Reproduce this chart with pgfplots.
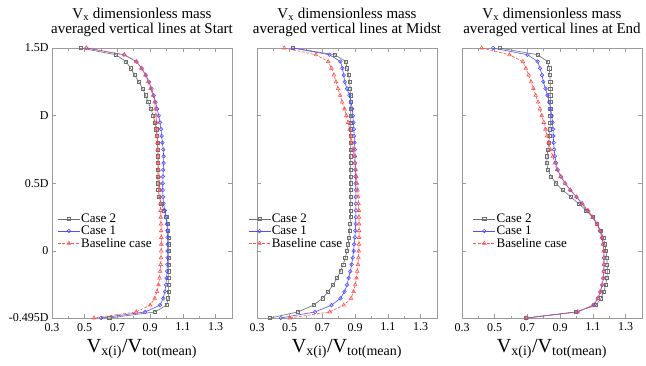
\documentclass[border=0pt]{standalone}
\usepackage{fontspec}
\setmainfont{Liberation Serif}
\usepackage{pgfplots}
\usepackage{pgfplotstable}
\pgfplotsset{compat=1.18}
\definecolor{cgray}{RGB}{110,110,110}
\definecolor{cblue}{RGB}{80,80,255}
\definecolor{cred}{RGB}{255,80,80}
\definecolor{frame}{RGB}{155,155,155}

% Start
\pgfplotstableread{
y g b r
1.50 0.474 0.51 0.51
1.45 0.69 0.74 0.743
1.40 0.753 0.815 0.816
1.35 0.78 0.848 0.847
1.30 0.805 0.873 0.871
1.25 0.83 0.893 0.888
1.20 0.855 0.908 0.902
1.15 0.871 0.922 0.917
1.10 0.888 0.933 0.927
1.05 0.905 0.943 0.932
1.00 0.918 0.952 0.936
0.95 0.93 0.96 0.938
0.90 0.937 0.966 0.94
0.85 0.942 0.97 0.942
0.80 0.945 0.975 0.944
0.75 0.947 0.98 0.946
0.70 0.948 0.982 0.948
0.65 0.948 0.982 0.95
0.60 0.948 0.98 0.952
0.55 0.948 0.978 0.954
0.50 0.948 0.977 0.956
0.45 0.95 0.977 0.958
0.40 0.955 0.978 0.96
0.35 0.968 0.982 0.962
0.30 0.985 0.99 0.964
0.25 0.998 0.997 0.965
0.20 1.006 1.002 0.966
0.15 1.01 1.005 0.967
0.10 1.012 1.006 0.968
0.05 1.013 1.007 0.968
0.00 1.013 1.007 0.967
-0.05 1.013 1.006 0.966
-0.10 1.013 1.005 0.964
-0.15 1.013 1.003 0.961
-0.20 1.013 1.0 0.957
-0.25 1.013 0.996 0.951
-0.30 1.012 0.99 0.942
-0.35 1.01 0.98 0.928
-0.40 1.0 0.96 0.9
-0.45 0.93 0.87 0.815
-0.495 0.65 0.6 0.557
}\dataA

% Midst
\pgfplotstableread{
y g b r
1.50 0.52 0.52 0.466
1.45 0.776 0.743 0.66
1.40 0.843 0.81 0.735
1.35 0.85 0.822 0.755
1.30 0.86 0.83 0.77
1.25 0.866 0.836 0.783
1.20 0.869 0.85 0.795
1.15 0.871 0.865 0.808
1.10 0.872 0.875 0.82
1.05 0.873 0.882 0.835
1.00 0.873 0.886 0.846
0.95 0.873 0.889 0.857
0.90 0.873 0.892 0.866
0.85 0.873 0.894 0.874
0.80 0.873 0.896 0.881
0.75 0.873 0.898 0.888
0.70 0.873 0.899 0.893
0.65 0.873 0.9 0.898
0.60 0.873 0.901 0.903
0.55 0.873 0.902 0.907
0.50 0.873 0.903 0.911
0.45 0.873 0.904 0.915
0.40 0.873 0.904 0.918
0.35 0.873 0.904 0.92
0.30 0.872 0.904 0.922
0.25 0.871 0.904 0.923
0.20 0.869 0.903 0.924
0.15 0.866 0.901 0.924
0.10 0.862 0.898 0.924
0.05 0.857 0.894 0.923
0.00 0.85 0.89 0.922
-0.05 0.84 0.885 0.92
-0.10 0.827 0.878 0.917
-0.15 0.81 0.87 0.913
-0.20 0.79 0.86 0.908
-0.25 0.765 0.85 0.9
-0.30 0.735 0.835 0.89
-0.35 0.70 0.81 0.875
-0.40 0.645 0.755 0.83
-0.45 0.55 0.655 0.745
-0.495 0.38 0.445 0.50
}\dataB

% End
\pgfplotstableread{
y g b r
1.50 0.53 0.49 0.42
1.45 0.762 0.70 0.59
1.40 0.823 0.762 0.672
1.35 0.833 0.777 0.69
1.30 0.837 0.789 0.708
1.25 0.839 0.797 0.722
1.20 0.84 0.81 0.736
1.15 0.84 0.823 0.75
1.10 0.84 0.833 0.765
1.05 0.84 0.842 0.776
1.00 0.84 0.848 0.787
0.95 0.84 0.853 0.8
0.90 0.838 0.856 0.81
0.85 0.835 0.858 0.82
0.80 0.83 0.86 0.83
0.75 0.825 0.863 0.84
0.70 0.82 0.868 0.855
0.65 0.818 0.875 0.867
0.60 0.825 0.885 0.88
0.55 0.845 0.905 0.903
0.50 0.874 0.93 0.93
0.45 0.915 0.962 0.963
0.40 0.965 0.999 1.0
0.35 1.012 1.032 1.036
0.30 1.06 1.066 1.07
0.25 1.097 1.10 1.098
0.20 1.125 1.125 1.125
0.15 1.148 1.143 1.143
0.10 1.163 1.156 1.155
0.05 1.173 1.163 1.162
0.00 1.18 1.167 1.166
-0.05 1.185 1.168 1.167
-0.10 1.187 1.168 1.167
-0.15 1.188 1.167 1.166
-0.20 1.186 1.164 1.163
-0.25 1.178 1.157 1.156
-0.30 1.166 1.146 1.145
-0.35 1.15 1.13 1.13
-0.40 1.12 1.105 1.10
-0.45 0.995 1.005 1.005
-0.495 0.692 0.696 0.696
}\dataC

\pgfplotsset{
  panel/.style={
    scale only axis, width=180pt, height=270pt,
    xmin=0.3, xmax=1.4, ymin=-0.495, ymax=1.5,
    xtick={0.3,0.5,0.7,0.9,1.1,1.3},
    xticklabels={0.3,0.5,0.7,0.9,1.1,1.3},
    minor xtick={0.4,0.6,0.8,1.0,1.2,1.4},
    ytick={-0.495,0,0.5,1,1.5},
    tick align=inside,
    axis line style={frame, line width=0.8pt},
    major tick style={frame, line width=0.7pt},
    minor tick style={frame, line width=0.7pt},
    major tick length=4pt, minor tick length=2.5pt,
    tick label style={font=\fontsize{12}{12}\selectfont, text=black},
    xticklabel style={yshift=-1.5pt},
    every axis x label/.style={at={(axis description cs:0.5,0)}, anchor=base, yshift=-34pt, font=\fontsize{20}{20}\selectfont},
    xlabel={V\textsubscript{x(i)}/V\textsubscript{tot(mean)}},
    legend cell align=left,
    legend style={draw=none, fill=none, font=\fontsize{13}{13}\selectfont, anchor=north west, inner sep=0pt,
      nodes={inner sep=1pt}},
    legend image code/.code={\draw[mark repeat=2,mark phase=2,##1] plot coordinates {(0pt,0pt) (11pt,0pt) (22pt,0pt)};},
  },
  s2/.style={cgray, line width=0.6pt, mark=square, mark size=1.6pt, mark options={solid}},
  s1/.style={cblue, line width=0.6pt, mark=o, mark size=1.8pt, mark options={solid}},
  s0/.style={cred, line width=0.6pt, dash pattern=on 3pt off 1.5pt, mark=triangle, mark size=2.1pt, mark options={solid}},
}

\newcommand{\ttl}[2]{%
  \node[anchor=base, font=\fontsize{15}{15}\selectfont] at ([yshift=29.5pt]#1.north) {V\textsubscript{x} dimensionless mass};
  \node[anchor=base, font=\fontsize{15}{15}\selectfont] at ([yshift=14pt]#1.north) {averaged vertical lines at #2};
}

\begin{document}
\begin{tikzpicture}
\useasboundingbox (0,0) rectangle (646pt,365pt);

\begin{axis}[panel, name=ax1, at={(52pt,47pt)}, anchor=south west,
  yticklabels={-0.495D,0,0.5D,D,1.5D},
  legend style={at={(0.03,0.39)}}]
\addplot[s2] table[x=g, y=y] {\dataA};
\addplot[s1] table[x=b, y=y] {\dataA};
\addplot[s0] table[x=r, y=y] {\dataA};
\legend{Case 2, Case 1, Baseline case}
\end{axis}

\begin{axis}[panel, name=ax2, at={(257pt,47pt)}, anchor=south west,
  yticklabels={},
  legend style={at={(-0.05,0.39)}}]
\addplot[s2] table[x=g, y=y] {\dataB};
\addplot[s1] table[x=b, y=y] {\dataB};
\addplot[s0] table[x=r, y=y] {\dataB};
\legend{Case 2, Case 1, Baseline case}
\end{axis}

\begin{axis}[panel, name=ax3, at={(462pt,47pt)}, anchor=south west,
  yticklabels={},
  legend style={at={(0.06,0.39)}}]
\addplot[s2] table[x=g, y=y] {\dataC};
\addplot[s1] table[x=b, y=y] {\dataC};
\addplot[s0] table[x=r, y=y] {\dataC};
\legend{Case 2, Case 1, Baseline case}
\end{axis}

\ttl{ax1}{Start}
\ttl{ax2}{Midst}
\ttl{ax3}{End}
\end{tikzpicture}
\end{document}
